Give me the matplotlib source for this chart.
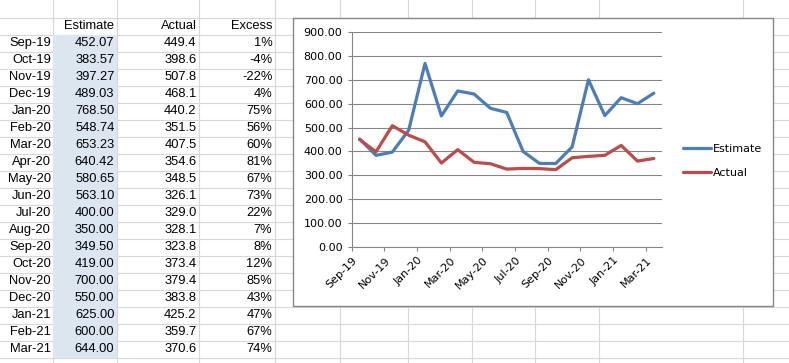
import matplotlib
matplotlib.use('Agg')
import matplotlib.pyplot as plt
from matplotlib.patches import Rectangle
from matplotlib.transforms import ScaledTranslation

# Data read from the sheet
months = ['Sep-19', 'Oct-19', 'Nov-19', 'Dec-19', 'Jan-20', 'Feb-20', 'Mar-20',
          'Apr-20', 'May-20', 'Jun-20', 'Jul-20', 'Aug-20', 'Sep-20', 'Oct-20',
          'Nov-20', 'Dec-20', 'Jan-21', 'Feb-21', 'Mar-21']
estimate = [452.07, 383.57, 397.27, 489.03, 768.50, 548.74, 653.23, 640.42,
            580.65, 563.10, 400.00, 350.00, 349.50, 419.00, 700.00, 550.00,
            625.00, 600.00, 644.00]
actual = [449.4, 398.6, 507.8, 468.1, 440.2, 351.5, 407.5, 354.6, 348.5, 326.1,
          329.0, 328.1, 323.8, 373.4, 379.4, 383.8, 425.2, 359.7, 370.6]
excess = [1, -4, -22, 4, 75, 56, 60, 81, 67, 73, 22, 7, 8, 12, 85, 43, 47, 67, 74]

W, H = 789, 363
GRID = '#d6d7d8'
AXC = '#868686'
TABLE_FONT = 'Liberation Sans'
CHART_FONT = 'DejaVu Sans'
CS = 8  # chart font size

fig = plt.figure(figsize=(W / 100, H / 100), dpi=100)

# sheet background in pixel coordinates
bg = fig.add_axes([0, 0, 1, 1])
bg.set_xlim(0, W)
bg.set_ylim(H, 0)
bg.axis('off')

cols = [53, 117, 199, 275, 340, 408, 472, 535, 599, 743]
rows = list(range(17, H, 17))
for c in cols:
    bg.plot([c + 0.5, c + 0.5], [0, H], color=GRID, lw=0.8, zorder=1)
for r in rows:
    bg.plot([0, W], [r + 0.5, r + 0.5], color=GRID, lw=0.8, zorder=1)

# shaded estimate column
bg.add_patch(Rectangle((53.5, 34.5), 64, 17 * len(months), facecolor='#dce6f1',
                       edgecolor='none', zorder=2))

# table text
ts = 9.3
hy = 17 + 8.5 + 0.8
bg.text(114.5, hy, 'Estimate', ha='right', va='center', fontsize=ts, family=TABLE_FONT, zorder=3)
bg.text(196.5, hy, 'Actual', ha='right', va='center', fontsize=ts, family=TABLE_FONT, zorder=3)
bg.text(272.5, hy, 'Excess', ha='right', va='center', fontsize=ts, family=TABLE_FONT, zorder=3)
for i, m in enumerate(months):
    y = 34 + 17 * i + 8.5 + 0.8
    bg.text(51, y, m, ha='right', va='center', fontsize=ts, family=TABLE_FONT, zorder=3)
    bg.text(114.5, y, f'{estimate[i]:.2f}', ha='right', va='center', fontsize=ts, family=TABLE_FONT, zorder=3)
    bg.text(196.5, y, f'{actual[i]:.1f}', ha='right', va='center', fontsize=ts, family=TABLE_FONT, zorder=3)
    bg.text(272.5, y, f'{excess[i]}%', ha='right', va='center', fontsize=ts, family=TABLE_FONT, zorder=3)

# chart box
bg.add_patch(Rectangle((293.5, 17.5), 480, 288, facecolor='white',
                       edgecolor=AXC, lw=1.0, zorder=4))

# plot area
x0, x1, ytop, ybot = 351.5, 662, 32, 247
ax = fig.add_axes([x0 / W, (H - ybot) / H, (x1 - x0) / W, (ybot - ytop) / H])
ax.set_facecolor('none')
ax.set_zorder(5)

x = list(range(len(months)))
ax.plot(x, estimate, color='#4a7ebb', lw=2.3, solid_joinstyle='round',
        solid_capstyle='round', label='Estimate', zorder=3)
ax.plot(x, actual, color='#be4b48', lw=2.3, solid_joinstyle='round',
        solid_capstyle='round', label='Actual', zorder=3)

ax.set_xlim(-0.5, len(months) - 0.5)
ax.set_ylim(0, 900)
ax.set_yticks(range(0, 901, 100))
ax.set_yticklabels([f'{v:.2f}' for v in range(0, 901, 100)])
ax.yaxis.grid(True, color=AXC, lw=0.8)
ax.set_axisbelow(True)

for s in ['top', 'right']:
    ax.spines[s].set_visible(False)
for s in ['left', 'bottom']:
    ax.spines[s].set_color(AXC)
    ax.spines[s].set_linewidth(0.8)

ax.tick_params(axis='y', direction='out', length=2.9, width=0.8, color=AXC,
               pad=3.6, labelsize=CS, labelcolor='black')
ax.set_xticks(x[::2])
ax.set_xticklabels(months[::2], rotation=45, ha='right', va='center',
                   rotation_mode='anchor', fontsize=CS)
ax.set_xticks([b - 0.5 for b in range(0, len(months), 2)], minor=True)
ax.tick_params(axis='x', which='major', length=0, pad=8.6)
ax.tick_params(axis='x', which='minor', direction='out', length=2.9, width=0.8, color=AXC)
off = ScaledTranslation(-4 / 100, 0, fig.dpi_scale_trans)
for lbl in ax.get_xticklabels():
    lbl.set_transform(lbl.get_transform() + off)
    lbl.set_family(CHART_FONT)
for lbl in ax.get_yticklabels():
    lbl.set_family(CHART_FONT)

leg = fig.legend(loc='center left', bbox_to_anchor=(683 / W, (H - 161) / H),
                 frameon=False, handlelength=2.5, handletextpad=0.2,
                 labelspacing=1.2, borderpad=0, borderaxespad=0,
                 prop={'family': CHART_FONT, 'size': CS})

fig.savefig('out.png', dpi=100)
